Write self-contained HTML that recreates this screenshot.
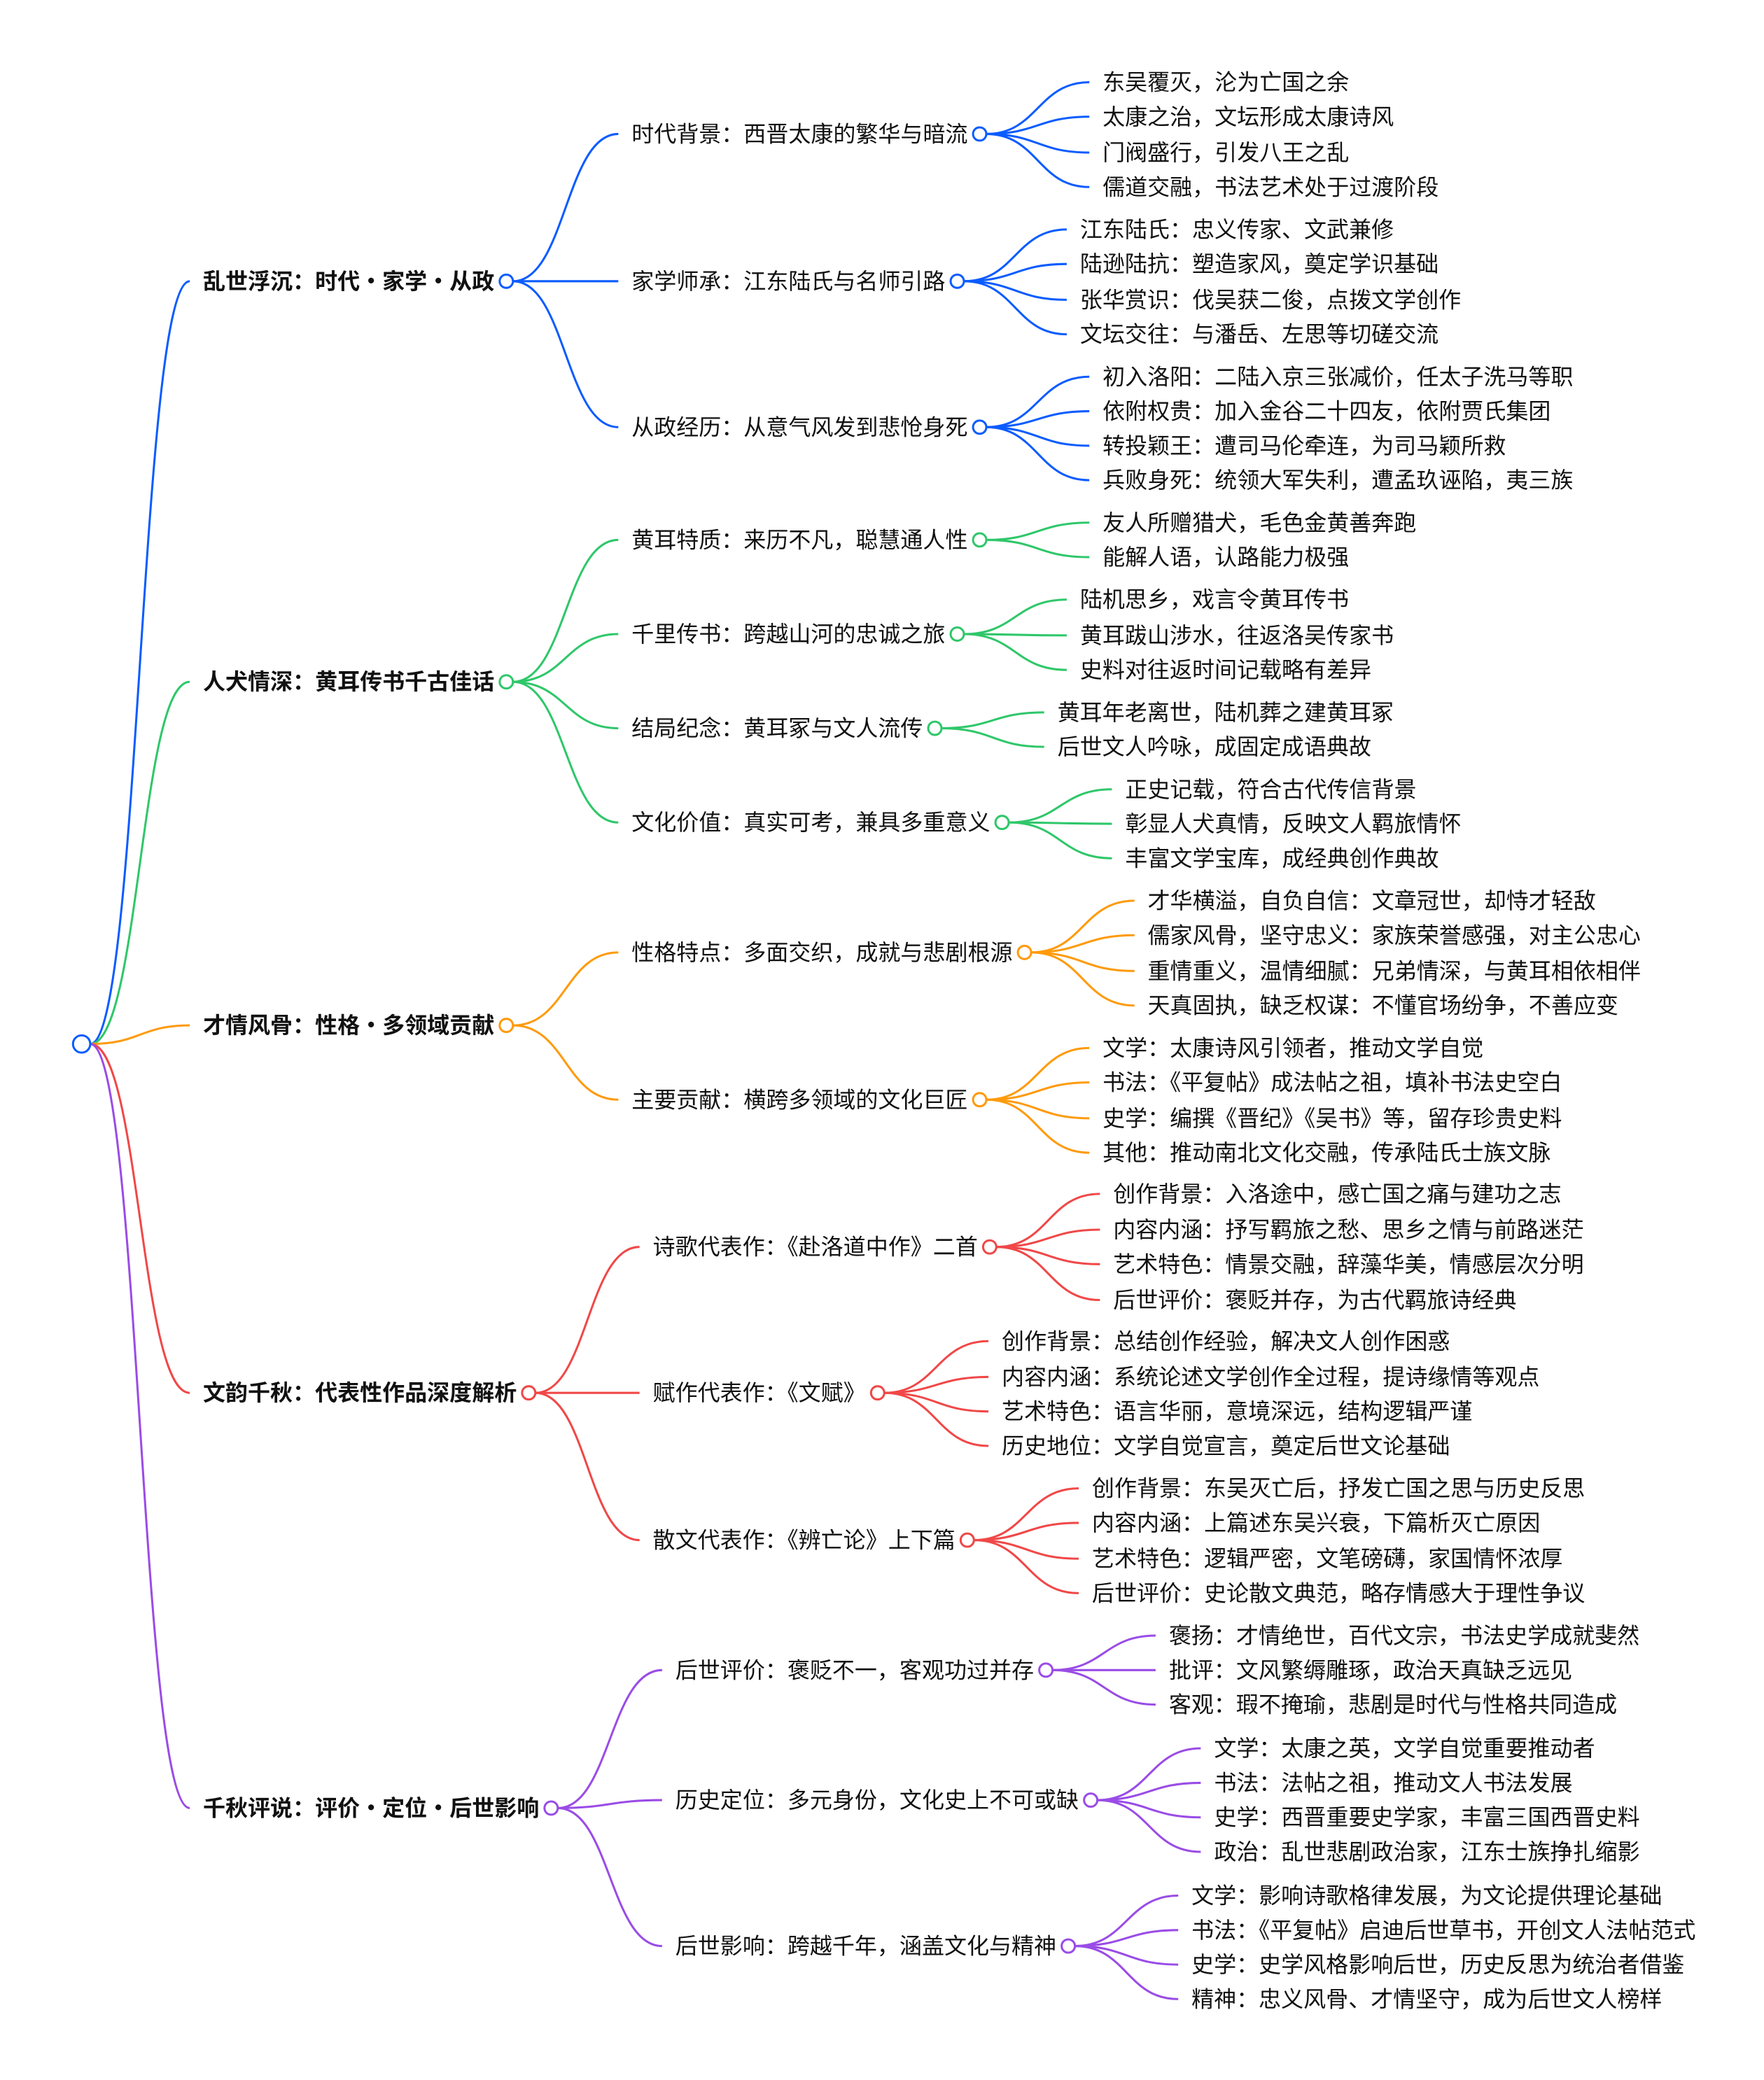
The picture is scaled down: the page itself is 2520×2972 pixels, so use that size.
<!DOCTYPE html>
<html><head><meta charset="utf-8"><style>
html,body{margin:0;padding:0;background:#fff;}
svg{display:block;}
text{font-family:"Liberation Sans","Noto Sans CJK SC",sans-serif;font-size:16.9px;fill:#111;dominant-baseline:central;}
.b{font-weight:bold;}
</style></head><body>
<svg id="s" width="2520" height="2972" viewBox="0 0 1329.5 1568" xmlns="http://www.w3.org/2000/svg">
<g id="lines" fill="none" stroke-width="1.6"></g>
<g id="txt">
<text class="b" x="153" y="212">乱世浮沉：时代・家学・从政</text>
<text x="476" y="101">时代背景：西晋太康的繁华与暗流</text>
<text x="831" y="62">东吴覆灭，沦为亡国之余</text>
<text x="831" y="88">太康之治，文坛形成太康诗风</text>
<text x="831" y="115">门阀盛行，引发八王之乱</text>
<text x="831" y="141">儒道交融，书法艺术处于过渡阶段</text>
<text x="476" y="212">家学师承：江东陆氏与名师引路</text>
<text x="814" y="173">江东陆氏：忠义传家、文武兼修</text>
<text x="814" y="199">陆逊陆抗：塑造家风，奠定学识基础</text>
<text x="814" y="226">张华赏识：伐吴获二俊，点拨文学创作</text>
<text x="814" y="252">文坛交往：与潘岳、左思等切磋交流</text>
<text x="476" y="322">从政经历：从意气风发到悲怆身死</text>
<text x="831" y="284">初入洛阳：二陆入京三张减价，任太子洗马等职</text>
<text x="831" y="310">依附权贵：加入金谷二十四友，依附贾氏集团</text>
<text x="831" y="336">转投颖王：遭司马伦牵连，为司马颖所救</text>
<text x="831" y="362">兵败身死：统领大军失利，遭孟玖诬陷，夷三族</text>
<text class="b" x="153" y="514">人犬情深：黄耳传书千古佳话</text>
<text x="476" y="407">黄耳特质：来历不凡，聪慧通人性</text>
<text x="831" y="394">友人所赠猎犬，毛色金黄善奔跑</text>
<text x="831" y="420">能解人语，认路能力极强</text>
<text x="476" y="478">千里传书：跨越山河的忠诚之旅</text>
<text x="814" y="452">陆机思乡，戏言令黄耳传书</text>
<text x="814" y="479">黄耳跋山涉水，往返洛吴传家书</text>
<text x="814" y="505">史料对往返时间记载略有差异</text>
<text x="476" y="549">结局纪念：黄耳冢与文人流传</text>
<text x="797" y="537">黄耳年老离世，陆机葬之建黄耳冢</text>
<text x="797" y="563">后世文人吟咏，成固定成语典故</text>
<text x="476" y="620">文化价值：真实可考，兼具多重意义</text>
<text x="848" y="595">正史记载，符合古代传信背景</text>
<text x="848" y="621">彰显人犬真情，反映文人羁旅情怀</text>
<text x="848" y="647">丰富文学宝库，成经典创作典故</text>
<text class="b" x="153" y="773">才情风骨：性格・多领域贡献</text>
<text x="476" y="718">性格特点：多面交织，成就与悲剧根源</text>
<text x="865" y="679">才华横溢，自负自信：文章冠世，却恃才轻敌</text>
<text x="865" y="705">儒家风骨，坚守忠义：家族荣誉感强，对主公忠心</text>
<text x="865" y="732">重情重义，温情细腻：兄弟情深，与黄耳相依相伴</text>
<text x="865" y="758">天真固执，缺乏权谋：不懂官场纷争，不善应变</text>
<text x="476" y="829">主要贡献：横跨多领域的文化巨匠</text>
<text x="831" y="790">文学：太康诗风引领者，推动文学自觉</text>
<text x="831" y="816">书法：《平复帖》成法帖之祖，填补书法史空白</text>
<text x="831" y="843">史学：编撰《晋纪》《吴书》等，留存珍贵史料</text>
<text x="831" y="869">其他：推动南北文化交融，传承陆氏士族文脉</text>
<text class="b" x="153" y="1050">文韵千秋：代表性作品深度解析</text>
<text x="492" y="940">诗歌代表作：《赴洛道中作》二首</text>
<text x="839" y="900">创作背景：入洛途中，感亡国之痛与建功之志</text>
<text x="839" y="927">内容内涵：抒写羁旅之愁、思乡之情与前路迷茫</text>
<text x="839" y="953">艺术特色：情景交融，辞藻华美，情感层次分明</text>
<text x="839" y="980">后世评价：褒贬并存，为古代羁旅诗经典</text>
<text x="492" y="1050">赋作代表作：《文赋》</text>
<text x="755" y="1011">创作背景：总结创作经验，解决文人创作困惑</text>
<text x="755" y="1038">内容内涵：系统论述文学创作全过程，提诗缘情等观点</text>
<text x="755" y="1064">艺术特色：语言华丽，意境深远，结构逻辑严谨</text>
<text x="755" y="1090">历史地位：文学自觉宣言，奠定后世文论基础</text>
<text x="492" y="1161">散文代表作：《辨亡论》上下篇</text>
<text x="823" y="1122">创作背景：东吴灭亡后，抒发亡国之思与历史反思</text>
<text x="823" y="1148">内容内涵：上篇述东吴兴衰，下篇析灭亡原因</text>
<text x="823" y="1175">艺术特色：逻辑严密，文笔磅礴，家国情怀浓厚</text>
<text x="823" y="1201">后世评价：史论散文典范，略存情感大于理性争议</text>
<text class="b" x="153" y="1363">千秋评说：评价・定位・后世影响</text>
<text x="509" y="1259">后世评价：褒贬不一，客观功过并存</text>
<text x="881" y="1233">褒扬：才情绝世，百代文宗，书法史学成就斐然</text>
<text x="881" y="1259">批评：文风繁缛雕琢，政治天真缺乏远见</text>
<text x="881" y="1285">客观：瑕不掩瑜，悲剧是时代与性格共同造成</text>
<text x="509" y="1357">历史定位：多元身份，文化史上不可或缺</text>
<text x="915" y="1318">文学：太康之英，文学自觉重要推动者</text>
<text x="915" y="1344">书法：法帖之祖，推动文人书法发展</text>
<text x="915" y="1370">史学：西晋重要史学家，丰富三国西晋史料</text>
<text x="915" y="1396">政治：乱世悲剧政治家，江东士族挣扎缩影</text>
<text x="509" y="1467">后世影响：跨越千年，涵盖文化与精神</text>
<text x="898" y="1429">文学：影响诗歌格律发展，为文论提供理论基础</text>
<text x="898" y="1455">书法：《平复帖》启迪后世草书，开创文人法帖范式</text>
<text x="898" y="1481">史学：史学风格影响后世，历史反思为统治者借鉴</text>
<text x="898" y="1507">精神：忠义风骨、才情坚守，成为后世文人榜样</text>
</g>
<g id="circ" fill="#fff" stroke-width="1.6"></g>
</svg>
<script>
var C=["#0b5cff","#2fc76a","#ff9a0a","#f04848","#9a4ce6"];
var P=[-1,0,1,1,1,1,0,6,6,6,6,0,11,11,11,11,
-1,16,17,17,16,20,20,20,16,24,24,16,27,27,27,
-1,31,32,32,32,32,31,37,37,37,37,
-1,42,43,43,43,43,42,48,48,48,48,42,53,53,53,53,
-1,58,59,59,59,58,63,63,63,63,58,68,68,68,68];
var ts=document.querySelectorAll('#txt text');
var ns="http://www.w3.org/2000/svg";
var L=document.getElementById('lines'),G=document.getElementById('circ');
var col=[],cx=[],hasKid=[];
for(var i=0;i<P.length;i++){hasKid[i]=false;}
for(var i=0;i<P.length;i++){if(P[i]>=0)hasKid[P[i]]=true;}
var ci=-1;
for(var i=0;i<ts.length;i++){if(P[i]==-1)ci++;col[i]=C[ci];
 var t=ts[i];var x=+t.getAttribute('x');cx[i]=x+t.getComputedTextLength()+(P[i]==-1?9:9);}
var rx=61.5,ry=787;
function path(x1,y1,x2,y2,c){var p=document.createElementNS(ns,'path');var m=(x1+x2)/2;
p.setAttribute('d','M'+x1+','+y1+' C'+m+','+y1+' '+m+','+y2+' '+x2+','+y2);p.setAttribute('stroke',c);L.appendChild(p);}
function circ(x,y,r,c){var e=document.createElementNS(ns,'circle');e.setAttribute('cx',x);e.setAttribute('cy',y);e.setAttribute('r',r);e.setAttribute('stroke',c);G.appendChild(e);}
for(var i=0;i<ts.length;i++){var t=ts[i],x=+t.getAttribute('x'),y=+t.getAttribute('y');
 var px,py,pr;
 if(P[i]==-1){px=rx;py=ry;pr=6.5;}else{px=cx[P[i]];py=+ts[P[i]].getAttribute('y');pr=5;}
 path(px+pr,py,x-10,y,col[i]);
 if(hasKid[i])circ(cx[i],y,5,col[i]);
}
circ(rx,ry,6.5,C[0]);
</script>
</body></html>
